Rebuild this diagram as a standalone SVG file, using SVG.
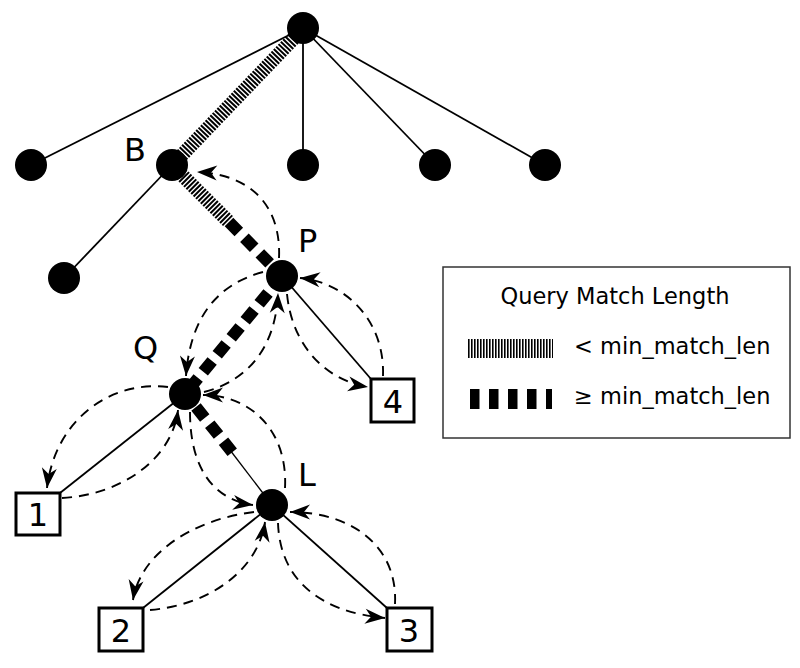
<svg xmlns="http://www.w3.org/2000/svg" width="800" height="668" viewBox="0 0 800 668">
<style>
.thin{stroke:#000;stroke-width:1.8;fill:none}
.thin2{stroke:#000;stroke-width:1.3;fill:none}
.hatch{stroke:#000;stroke-width:14;stroke-dasharray:2 1.4;fill:none}
.thick{stroke:#000;stroke-width:12;stroke-dasharray:14 8;fill:none}
.arc{stroke:#000;stroke-width:1.9;stroke-dasharray:10 7;fill:none;marker-end:url(#ah)}
.dot{fill:#000}
.box{fill:#fff;stroke:#000;stroke-width:3}
.lbl{font-family:"DejaVu Sans",sans-serif;font-size:32px;fill:#000}
.num{font-family:"DejaVu Sans",sans-serif;font-size:32px;fill:#000;text-anchor:middle}
.leg{font-family:"DejaVu Sans",sans-serif;font-size:22.5px;fill:#000}
</style>
<defs>
<marker id="ah" markerUnits="userSpaceOnUse" markerWidth="24" markerHeight="20" viewBox="-22 -10 24 20" refX="0" refY="0" orient="auto">
<path d="M0,0 L-20,-7.5 L-14,0 L-20,7.5 Z" fill="#000"/>
</marker>
</defs>
<g id="edges">
<line class="thin" x1="303" y1="28" x2="31" y2="165"/>
<line class="thin" x1="303" y1="28" x2="303" y2="165"/>
<line class="thin" x1="303" y1="28" x2="435" y2="165"/>
<line class="thin" x1="303" y1="28" x2="545" y2="165"/>
<line class="thin" x1="172" y1="165" x2="64" y2="278"/>
<line class="thin" x1="282" y1="276" x2="371" y2="379"/>
<line class="thin" x1="185" y1="394" x2="60" y2="493"/>
<line class="thin" x1="272" y1="505" x2="143" y2="608"/>
<line class="thin" x1="272" y1="505" x2="387" y2="608"/>
<line class="thin2" x1="230" y1="450" x2="272" y2="505"/>
<line class="hatch" x1="296" y1="36" x2="181" y2="156"/>
<line class="hatch" x1="181" y1="174" x2="228" y2="221"/>
<line class="thick" x1="229" y1="222" x2="282" y2="276"/>
<line class="thick" x1="282" y1="276" x2="185" y2="394"/>
<line class="thick" x1="196" y1="407" x2="236" y2="457"/>
</g>
<g id="arcs">
<path class="arc" d="M279,258 C281,215 260,175 197,172"/>
<path class="arc" d="M263,272 C215,285 190,320 186,376"/>
<path class="arc" d="M204,392 C250,380 276,345 278,293"/>
<path class="arc" d="M287,294 C292,345 325,380 368,387"/>
<path class="arc" d="M383,376 C385,320 345,282 300,278"/>
<path class="arc" d="M168,387 C110,380 55,420 47,488"/>
<path class="arc" d="M62,498 C120,495 172,460 178,410"/>
<path class="arc" d="M190,412 C190,470 215,500 253,505"/>
<path class="arc" d="M285,488 C288,430 250,395 203,395"/>
<path class="arc" d="M254,512 C190,520 140,555 133,600"/>
<path class="arc" d="M150,610 C210,605 258,570 265,522"/>
<path class="arc" d="M278,523 C280,580 320,612 385,618"/>
<path class="arc" d="M395,604 C398,545 350,512 290,512"/>
</g>
<g id="root"><circle class="dot" cx="303" cy="28" r="16"/></g>
<g id="c1"><circle class="dot" cx="31" cy="165" r="16"/></g>
<g id="B"><circle class="dot" cx="172" cy="165" r="16"/><text class="lbl" x="124" y="161">B</text></g>
<g id="c3"><circle class="dot" cx="303" cy="165" r="16"/></g>
<g id="c4"><circle class="dot" cx="435" cy="165" r="16"/></g>
<g id="c5"><circle class="dot" cx="545" cy="165" r="16"/></g>
<g id="b1"><circle class="dot" cx="64" cy="278" r="16"/></g>
<g id="P"><circle class="dot" cx="282" cy="276" r="16"/><text class="lbl" x="298" y="252">P</text></g>
<g id="Q"><circle class="dot" cx="185" cy="394" r="16"/><text class="lbl" x="133" y="359">Q</text></g>
<g id="L"><circle class="dot" cx="272" cy="505" r="16"/><text class="lbl" x="298" y="486">L</text></g>
<g id="n1"><rect class="box" x="16" y="493" width="44" height="42"/><text class="num" x="38" y="526">1</text></g>
<g id="n2"><rect class="box" x="99" y="608" width="44" height="43"/><text class="num" x="121" y="642">2</text></g>
<g id="n3"><rect class="box" x="387" y="608" width="45" height="43"/><text class="num" x="409" y="642">3</text></g>
<g id="n4"><rect class="box" x="371" y="379" width="43" height="43"/><text class="num" x="393" y="413">4</text></g>
<g id="legend">
<rect x="443" y="267" width="347" height="171" fill="#fff" stroke="#333" stroke-width="1.5"/>
<text class="leg" x="615" y="304" text-anchor="middle">Query Match Length</text>
<line x1="468" y1="348.5" x2="553" y2="348.5" stroke="#000" stroke-width="19" stroke-dasharray="1.6 1.4"/>
<line x1="470" y1="399" x2="552" y2="399" stroke="#000" stroke-width="20" stroke-dasharray="9.5 9.5"/>
<text class="leg" x="574" y="354">&lt; min_match_len</text>
<text class="leg" x="574" y="404">≥ min_match_len</text>
</g>
</svg>
